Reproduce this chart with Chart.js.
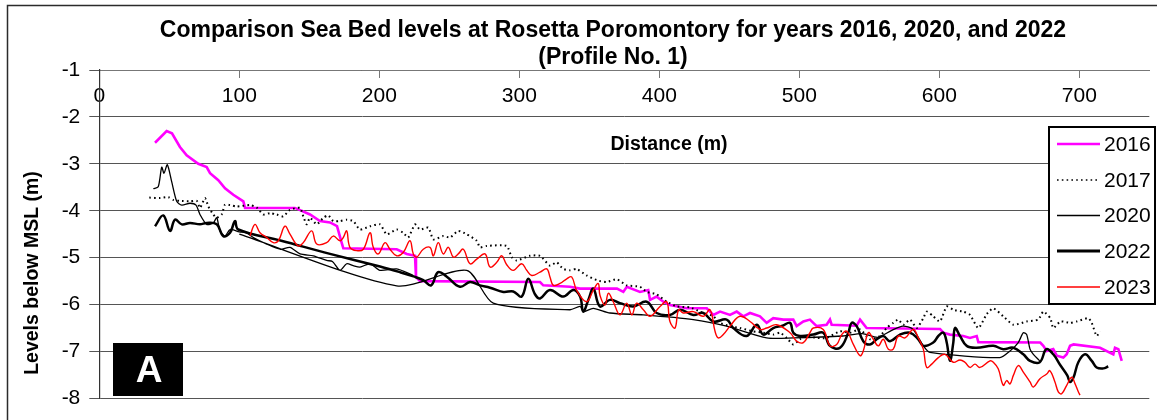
<!DOCTYPE html>
<html>
<head>
<meta charset="utf-8">
<script src="https://cdn.jsdelivr.net/npm/chart.js@4.4.1/dist/chart.umd.min.js"></script>
<style>
  html, body { margin: 0; padding: 0; background: #ffffff; }
  #wrap { width: 1168px; height: 420px; position: relative; }
</style>
</head>
<body>
<div id="wrap"><canvas id="profile" width="1168" height="420"></canvas></div>
<script>
// ---- labels ----
const titleLines = ['Comparison Sea Bed levels at Rosetta Poromontory for years 2016, 2020, and 2022', '(Profile No. 1)'];
const xAxisTitle = 'Distance (m)';
const yAxisTitle = 'Levels below MSL (m)';
const panelTag = 'A';
const years = ['2016', '2017', '2020', '2022', '2023'];
const distanceTicks = [0, 100, 200, 300, 400, 500, 600, 700];
const levelTicks = [-1, -2, -3, -4, -5, -6, -7, -8];

// ---- survey profiles: [distance (m), level (m)] ----
const survey2016 = [
  [39.8,-2.55],[48.1,-2.30],[51.9,-2.35],[57.6,-2.64],[62.4,-2.82],[70.7,-3.00],[76.7,-3.07],[79.1,-3.20],
  [85.0,-3.35],[89.8,-3.52],[95.7,-3.66],[102.9,-3.80],[104.1,-3.94],[139.8,-3.94],[150.5,-4.08],[157.6,-4.22],
  [164.8,-4.25],[169.8,-4.33],[173.1,-4.68],[174.3,-4.80],[212.4,-4.82],[219.6,-4.92],[225.5,-4.96],[226.2,-5.41],
  [229.1,-5.50],[314.8,-5.52],[317.1,-5.59],[336.2,-5.62],[343.4,-5.66],[369.8,-5.66],[374.3,-5.73],[376.8,-5.62],
  [386.2,-5.73],[392.1,-5.69],[393.4,-5.90],[398.1,-5.83],[402.9,-5.94],[407.6,-6.01],[419.6,-6.08],[433.9,-6.08],
  [438.6,-6.22],[443.4,-6.15],[450.5,-6.22],[455.3,-6.15],[460.0,-6.25],[464.8,-6.18],[471.9,-6.25],[476.7,-6.39],
  [481.4,-6.29],[488.6,-6.32],[495.7,-6.32],[498.1,-6.46],[502.9,-6.36],[507.6,-6.32],[512.4,-6.46],[519.5,-6.43],
  [521.9,-6.32],[523.1,-6.43],[541.0,-6.45],[543.4,-6.32],[548.1,-6.50],[600.5,-6.52],[602.9,-6.60],[607.6,-6.64],
  [617.1,-6.67],[621.9,-6.71],[626.7,-6.67],[627.9,-6.80],[672.1,-6.81],[674.3,-6.88],[676.7,-6.99],[681.4,-6.95],
  [683.9,-7.09],[688.6,-7.13],[691.0,-7.06],[693.4,-6.88],[695.9,-6.85],[714.8,-6.92],[724.3,-7.06],[725.5,-6.92],
  [727.9,-6.95],[730.3,-7.20]
];

const survey2017 = [
  [35.7,-3.72],[43.4,-3.73],[49.3,-3.71],[52.9,-3.77],[57.6,-3.79],[64.8,-3.80],[69.6,-3.79],[71.9,-3.94],
  [75.5,-3.73],[77.9,-3.91],[81.4,-4.08],[83.9,-4.15],[87.4,-4.08],[89.8,-3.87],[93.4,-3.88],[98.1,-3.91],
  [107.6,-3.88],[112.4,-3.93],[117.1,-4.08],[121.9,-4.05],[126.7,-4.08],[131.4,-4.12],[136.2,-3.98],[143.4,-3.94],
  [145.7,-4.12],[148.1,-4.29],[150.5,-4.15],[155.3,-4.29],[160.0,-4.15],[163.6,-4.10],[167.1,-4.22],[171.9,-4.22],
  [176.7,-4.19],[181.4,-4.22],[186.2,-4.40],[193.4,-4.33],[200.5,-4.29],[205.3,-4.50],[212.4,-4.40],[217.1,-4.47],
  [220.7,-4.57],[225.5,-4.29],[229.1,-4.40],[235.0,-4.36],[238.6,-4.61],[245.7,-4.54],[250.5,-4.57],[256.4,-4.43],
  [262.4,-4.50],[269.6,-4.64],[271.9,-4.78],[276.7,-4.75],[291.0,-4.75],[294.6,-4.99],[298.1,-5.06],[307.6,-4.96],
  [314.8,-4.96],[321.9,-5.17],[326.7,-5.10],[331.4,-5.24],[336.2,-5.27],[340.9,-5.24],[348.1,-5.38],[355.3,-5.48],
  [362.4,-5.52],[369.6,-5.46],[376.7,-5.59],[386.2,-5.62],[391.0,-5.73],[398.1,-5.78],[405.3,-5.94],[412.4,-6.04],
  [421.9,-6.06],[429.1,-6.15],[438.6,-6.25],[443.4,-6.39],[450.5,-6.46],[457.6,-6.50],[467.1,-6.57],[474.3,-6.60],
  [481.4,-6.64],[486.2,-6.60],[491.0,-6.71],[495.7,-6.85],[500.5,-6.74],[505.3,-6.67],[512.4,-6.71],[519.5,-6.71],
  [529.1,-6.57],[536.2,-6.60],[543.4,-6.53],[550.5,-6.74],[557.6,-6.67],[562.4,-6.50],[567.1,-6.39],[570.7,-6.32],
  [574.3,-6.43],[579.1,-6.32],[583.9,-6.50],[588.6,-6.29],[591.0,-6.15],[595.7,-6.25],[600.5,-6.36],[605.3,-6.04],
  [610.0,-6.11],[617.1,-6.15],[621.9,-6.22],[627.9,-6.50],[634.0,-6.20],[638.6,-6.08],[645.7,-6.25],[652.9,-6.43],
  [662.4,-6.36],[670.7,-6.32],[674.3,-6.15],[679.3,-6.29],[681.4,-6.50],[686.6,-6.36],[693.4,-6.39],[698.1,-6.36],
  [706.4,-6.29],[708.9,-6.39],[712.4,-6.67],[714.8,-6.57]
];

// two surveyed runs; null marks the break between them
const survey2020 = [
  [38.6,-3.53],[42.1,-3.49],[44.6,-3.07],[46.2,-3.20],[48.6,-3.02],[51.7,-3.38],[55.3,-3.80],[58.9,-3.88],
  [64.8,-3.84],[69.1,-3.88],[71.9,-4.08],[76.7,-4.29],[81.4,-4.26],[83.9,-4.15],[86.2,-4.43],[89.8,-4.54],
  [93.4,-4.40],[100.0,-4.45],[105.2,-4.47],[110.0,-4.57],[119.6,-4.71],[129.1,-4.82],[136.2,-4.78],[143.4,-4.92],
  [152.9,-4.96],[162.4,-5.06],[166.5,-5.08],[171.9,-5.27],[176.7,-5.13],[181.4,-5.17],[186.2,-5.20],[193.4,-5.13],
  [200.5,-5.27],[212.4,-5.24],[224.3,-5.38],
  null,
  [100.0,-4.50],[212.4,-5.60],[262.4,-5.27],[281.4,-5.97],[336.2,-6.11],[343.4,-6.04],[345.7,-6.15],[352.8,-6.08],
  [364.8,-6.18],[388.6,-6.22],[424.3,-6.32],[448.1,-6.46],[476.7,-6.71],[495.7,-6.71],[531.0,-6.67],[545.0,-6.62],
  [556.0,-6.70],[566.0,-6.55],[574.0,-6.46],[581.0,-6.52],[588.6,-6.88],[593.3,-7.02],[643.3,-7.13],[650.5,-6.99],
  [656.4,-6.81],[660.0,-6.60],[662.4,-6.64],[664.8,-6.95],[667.2,-7.06],[671.7,-7.20]
];

const survey2022 = [
  [39.8,-4.33],[45.7,-4.10],[50.5,-4.43],[54.1,-4.19],[58.9,-4.29],[64.8,-4.26],[71.9,-4.29],[76.7,-4.26],
  [83.9,-4.29],[88.6,-4.54],[93.4,-4.47],[96.9,-4.22],[99.3,-4.40],[130.0,-4.64],[164.8,-4.92],[200.5,-5.19],
  [214.8,-5.31],[224.4,-5.40],[231.4,-5.48],[237.0,-5.59],[242.0,-5.31],[248.0,-5.40],[257.6,-5.62],[264.8,-5.52],
  [271.9,-5.59],[279.1,-5.64],[288.6,-5.73],[295.7,-5.72],[301.7,-5.83],[306.4,-5.45],[311.2,-5.78],[314.8,-5.87],
  [321.9,-5.69],[331.4,-5.83],[338.6,-5.69],[343.4,-5.83],[345.7,-6.15],[349.3,-5.90],[352.9,-5.66],[357.6,-6.04],
  [364.8,-5.90],[371.9,-5.97],[381.4,-6.04],[391.0,-5.94],[398.1,-6.18],[407.6,-6.22],[414.8,-6.11],[424.3,-6.22],
  [431.4,-6.18],[438.6,-6.36],[448.1,-6.32],[452.9,-6.50],[462.4,-6.67],[469.6,-6.43],[474.3,-6.64],[481.4,-6.50],
  [488.0,-6.45],[493.4,-6.39],[495.7,-6.60],[500.5,-6.67],[510.0,-6.64],[517.1,-6.60],[521.9,-6.88],[529.1,-6.92],
  [535.0,-6.60],[537.4,-6.39],[541.0,-6.46],[545.7,-6.78],[550.5,-6.85],[555.3,-6.74],[560.0,-6.67],[564.8,-6.78],
  [571.9,-6.64],[579.1,-6.60],[585.0,-6.74],[588.6,-6.88],[595.7,-6.81],[599.3,-6.67],[602.9,-6.60],[605.3,-6.81],
  [607.6,-7.20],[610.0,-6.81],[611.2,-6.50],[614.8,-6.67],[619.6,-6.88],[626.7,-6.92],[638.6,-6.88],[645.7,-6.95],
  [652.9,-6.92],[660.0,-7.06],[664.8,-7.20],[671.7,-7.23],[676.5,-6.95],[681.4,-7.06],[686.6,-7.30],[691.4,-7.51],
  [693.4,-7.65],[695.9,-7.55],[699.3,-7.23],[704.1,-7.06],[708.9,-7.20],[712.4,-7.34],[717.1,-7.36],[720.7,-7.32]
];

const survey2023 = [
  [107.6,-4.54],[111.2,-4.29],[114.8,-4.47],[119.6,-4.57],[124.3,-4.68],[127.9,-4.64],[132.6,-4.33],[136.2,-4.50],
  [142.1,-4.75],[145.7,-4.68],[151.7,-4.43],[155.3,-4.71],[162.4,-4.68],[167.1,-4.54],[171.9,-4.64],[174.3,-4.57],
  [176.7,-4.43],[179.0,-4.78],[183.8,-4.85],[188.6,-4.82],[193.4,-4.47],[195.7,-4.78],[199.3,-4.92],[204.1,-4.68],
  [207.6,-4.82],[212.4,-4.96],[217.1,-4.89],[221.9,-4.64],[224.3,-4.92],[226.7,-4.99],[231.4,-4.82],[236.2,-4.78],
  [238.6,-4.96],[242.1,-4.68],[245.7,-4.92],[249.3,-4.78],[252.9,-4.99],[256.4,-4.92],[260.0,-4.82],[264.8,-5.13],
  [269.6,-5.03],[275.5,-4.92],[279.1,-5.20],[283.9,-5.10],[287.4,-4.96],[291.0,-5.15],[295.7,-5.27],[301.7,-5.13],
  [305.3,-5.27],[308.9,-5.38],[314.8,-5.31],[319.6,-5.24],[321.9,-5.41],[324.3,-5.59],[329.1,-5.55],[333.9,-5.45],
  [337.4,-5.41],[341.0,-5.70],[348.1,-5.94],[352.9,-5.69],[356.4,-5.55],[357.6,-5.80],[361.2,-6.01],[363.6,-5.76],
  [367.1,-5.94],[371.9,-6.22],[376.7,-5.97],[380.4,-6.22],[383.8,-5.97],[388.6,-6.11],[393.4,-6.25],[400.5,-6.04],
  [405.3,-5.94],[407.6,-6.36],[411.2,-6.50],[413.8,-6.11],[417.1,-6.18],[424.3,-6.15],[431.4,-6.25],[436.2,-6.11],
  [439.8,-6.57],[442.1,-6.71],[445.7,-6.64],[450.5,-6.46],[457.6,-6.25],[464.8,-6.36],[471.9,-6.53],[476.7,-6.50],
  [483.8,-6.43],[493.4,-6.60],[498.1,-6.78],[502.9,-6.81],[507.6,-6.60],[510.0,-6.50],[517.1,-6.53],[521.9,-6.88],
  [526.7,-6.85],[530.3,-6.64],[533.9,-6.57],[538.6,-6.85],[543.4,-7.09],[545.7,-6.99],[549.3,-6.60],[552.9,-6.74],
  [556.4,-6.88],[560.0,-6.74],[563.6,-6.95],[567.1,-6.95],[570.7,-6.67],[575.5,-6.71],[581.4,-6.53],[585.0,-6.71],
  [588.6,-6.95],[591.0,-7.34],[594.6,-7.27],[599.3,-7.13],[604.1,-7.06],[610.0,-7.23],[614.8,-7.18],[618.3,-7.23],
  [621.9,-7.34],[625.5,-7.27],[629.0,-7.34],[636.2,-7.20],[638.6,-7.23],[642.1,-7.37],[645.7,-7.72],[648.1,-7.62],
  [650.5,-7.69],[652.9,-7.51],[656.4,-7.30],[660.0,-7.44],[664.8,-7.65],[667.2,-7.76],[671.9,-7.58],[676.7,-7.48],
  [679.0,-7.41],[682.6,-7.65],[685.0,-7.86],[687.4,-7.90],[691.0,-7.72],[694.6,-7.55],[697.0,-7.69],[699.3,-7.86],
  [700.5,-7.93]
];

const toPoints = rows => rows.map(r => r ? { x: r[0], y: r[1] } : { x: null, y: null });

const FONT = "'Liberation Sans', Arial, sans-serif";

// Text, legend, panel tag and frame drawn on top of the plot
const decorations = {
  id: 'decorations',
  afterDraw(chart) {
    const ctx = chart.ctx;
    ctx.save();

    // outer frame
    ctx.strokeStyle = '#2b2b2b';
    ctx.lineWidth = 1.5;
    ctx.beginPath();
    ctx.moveTo(7.5, 420);
    ctx.lineTo(7.5, 5.5);
    ctx.lineTo(1157, 5.5);
    ctx.stroke();

    // title
    ctx.fillStyle = '#000';
    ctx.textAlign = 'center';
    ctx.textBaseline = 'middle';
    ctx.font = 'bold 23px ' + FONT;
    ctx.fillText(titleLines[0], 613, 31);
    ctx.fillText(titleLines[1], 613, 58);

    // axis titles
    ctx.font = 'bold 19.5px ' + FONT;
    ctx.fillText(xAxisTitle, 669, 145);
    ctx.save();
    ctx.translate(32.5, 273);
    ctx.rotate(-Math.PI / 2);
    ctx.fillText(yAxisTitle, 0, 0);
    ctx.restore();

    // legend
    ctx.fillStyle = '#fff';
    ctx.fillRect(1048, 126, 108, 179);
    ctx.strokeStyle = '#000';
    ctx.lineWidth = 2;
    ctx.strokeRect(1049, 127, 106, 177);
    const rowY = [144, 180, 215.5, 251, 287];
    chart.data.datasets.forEach((ds, i) => {
      const y = rowY[i];
      ctx.save();
      ctx.strokeStyle = ds.borderColor;
      ctx.lineWidth = ds.legendWidth;
      ctx.setLineDash(ds.borderDash || []);
      ctx.lineCap = ds.borderCapStyle || 'butt';
      ctx.beginPath();
      ctx.moveTo(1057, y);
      ctx.lineTo(1100, y);
      ctx.stroke();
      ctx.restore();
      ctx.fillStyle = '#000';
      ctx.textAlign = 'left';
      ctx.textBaseline = 'middle';
      ctx.font = '21px ' + FONT;
      ctx.fillText(ds.label, 1104, y + 1);
    });

    // panel tag
    ctx.fillStyle = '#000';
    ctx.fillRect(113, 343, 70, 53);
    ctx.fillStyle = '#fff';
    ctx.textAlign = 'center';
    ctx.textBaseline = 'middle';
    ctx.font = 'bold 37px ' + FONT;
    ctx.fillText(panelTag, 149, 372);

    ctx.restore();
  }
};

const seriesRows = [survey2016, survey2017, survey2020, survey2022, survey2023];
const seriesStyle = [
  { borderColor: '#ff00ff', borderWidth: 2.6, legendWidth: 2.6, tension: 0, order: 5 },
  { borderColor: '#000000', borderWidth: 2, legendWidth: 1.6, borderDash: [1.6, 3.2], tension: 0.2, order: 4 },
  { borderColor: '#000000', borderWidth: 1.3, legendWidth: 1.3, tension: 0.25, order: 3 },
  { borderColor: '#000000', borderWidth: 2.5, legendWidth: 2.8, tension: 0.4, order: 2 },
  { borderColor: '#ff0000', borderWidth: 1.4, legendWidth: 1.4, tension: 0.4, order: 1 }
];

const datasets = years.map((yr, i) => Object.assign({
  label: yr,
  data: toPoints(seriesRows[i]),
  pointRadius: 0,
  pointHoverRadius: 0,
  fill: false,
  spanGaps: false
}, seriesStyle[i]));

new Chart(document.getElementById('profile'), {
  type: 'line',
  data: { datasets },
  plugins: [decorations],
  options: {
    responsive: false,
    animation: false,
    events: [],
    layout: { padding: { top: 70, right: 18.7, bottom: 17, left: 0 } },
    plugins: { legend: { display: false }, title: { display: false }, tooltip: { enabled: false } },
    scales: {
      x: {
        type: 'linear',
        min: 0,
        max: 750,
        position: { y: -1 },
        afterBuildTicks: s => { s.ticks = distanceTicks.map(v => ({ value: v })); },
        ticks: { color: '#000', font: { family: FONT, size: 21 }, padding: 7, maxRotation: 0, includeBounds: false },
        grid: { drawOnChartArea: false, drawTicks: true, tickLength: 7, color: '#777', lineWidth: 1 },
        border: { display: true, color: '#777', width: 1 }
      },
      y: {
        type: 'linear',
        min: -8,
        max: -1,
        position: 'left',
        afterFit: s => { s.width = 99.3; },
        afterBuildTicks: s => { s.ticks = levelTicks.map(v => ({ value: v })); },
        ticks: { color: '#000', font: { family: FONT, size: 21 }, padding: 9 },
        grid: { color: '#555', lineWidth: 1, tickLength: 10, drawTicks: true },
        border: { display: true, color: '#333', width: 1.2 }
      }
    }
  }
});
</script>
</body>
</html>
